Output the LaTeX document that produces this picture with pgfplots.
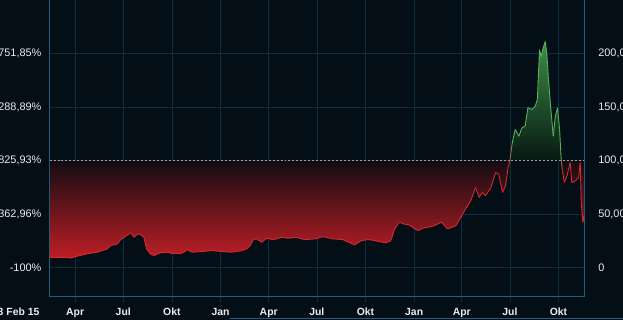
\documentclass[border=0pt]{standalone}
\usepackage{pgfplots}
\usepackage{pgfplotstable}
\pgfplotsset{compat=1.18}
\usepackage{fontspec}
\setmainfont{Liberation Sans}
\definecolor{bg}{RGB}{3,14,22}
\definecolor{gridc}{RGB}{13,46,62}
\definecolor{framec}{RGB}{30,96,128}
\definecolor{lab}{RGB}{236,236,236}
\definecolor{redhi}{RGB}{190,30,38}
\definecolor{redlo}{RGB}{18,12,18}
\definecolor{grnhi}{RGB}{62,140,72}
\definecolor{grnlo}{RGB}{6,24,18}
\definecolor{redline}{RGB}{216,40,46}
\definecolor{grnline}{RGB}{84,180,88}
\definecolor{dashc}{RGB}{160,160,160}

\pgfplotstableread{
d v
-48 10
-14 10
-9 9
4 10.9
23 13
42 14.6
61 17.7
67 20.7
80 22.3
86 26.3
102 31.6
105 33.2
111 28.5
116 30.7
122 31.6
130 28.5
135 17.7
142 13
149 11.4
161 14
174 14.6
186 13
199 13
208 15.2
211 17
221 14.6
240 15.2
258 16.1
277 15.2
296 14.6
315 16
324 17.7
331 20.7
337 26.3
343 27
353 23.9
362 27.6
375 26.3
390 28.5
403 27.6
418 28.5
434 26.3
453 27
469 29.1
488 27
506 26.4
528 21.4
541 25.4
556 26.4
575 24.5
588 23.3
597 25.4
604 36.3
613 42.5
622 40.9
632 40
638 37.8
648 34.7
657 36.9
676 38.8
693 42.5
704 36.3
713 37.8
720 39.4
729 47.2
738 54.9
748 62.6
757 75
764 65.8
770 70.4
776 67.3
786 75
795 89
801 87.4
808 70.4
814 76.6
818 92
822 99.8
826 115.3
832 129.3
839 123
845 130.9
851 132.4
856 149.5
864 147.9
870 151
874 157.2
878 203.7
881 197.5
885 205.3
889 211.5
892 199
895 175.8
899 151
904 123
908 141.7
912 149.5
916 129.3
919 101.4
921 92
925 79.7
930 85.9
936 98.3
939 79.7
946 81.2
952 84.4
955 98.3
957 61
960 42.5
962 48.7
}\price

\begin{document}
\pagecolor{bg}
\begin{tikzpicture}
\begin{axis}[
  scale only axis, width=537bp, height=310bp,
  xmin=-48.4, xmax=962.5, ymin=-27, ymax=261.4,
  axis line style={framec, line width=0.9bp},
  xtick={0,91,183,275,366,457,549,641,731,822,914},
  xticklabels={Apr,Jul,Okt,Jan,Apr,Jul,Okt,Jan,Apr,Jul,Okt},
  xtick pos=bottom, tick align=outside, major tick length=5bp,
  x tick style={gridc, line width=0.6bp},
  ytick={0,50,100,150,200},
  yticklabels={0,{50,00},{100,00},{150,00},{200,00}},
  ytick pos=right, yticklabel pos=right,
  y tick style={draw=none},
  grid=major, major grid style={gridc, line width=0.6bp},
  xticklabel style={font=\bfseries\fontsize{10.5}{12}\selectfont, text=lab, anchor=base, inner sep=0pt, yshift=-13.5bp},
  yticklabel style={font=\fontsize{11}{13}\selectfont, text=lab, anchor=west, inner sep=0pt, xshift=9bp},
  colormap={rg}{color(0)=(redline) color(1)=(grnline)},
  point meta min=99.9, point meta max=100.1,
  clip mode=individual,
]
\addplot[draw=none, top color=redlo, bottom color=redhi] table[x=d, y expr={min(\thisrow{v},100)}] {\price} -- (axis cs:962,100) -- (axis cs:-48,100) -- cycle;
\addplot[draw=none, top color=grnhi, bottom color=grnlo] table[x=d, y expr={max(\thisrow{v},100)}] {\price} -- (axis cs:962,100) -- (axis cs:-48,100) -- cycle;
\addplot[dashc, line width=0.9bp, dash pattern=on 2bp off 2bp] coordinates {(-48.4,100) (962.5,100)};
\addplot[mesh, shader=flat, point meta=y, line width=0.9bp] table[x=d, y=v] {\price};
\node[anchor=base east, inner sep=0pt, font=\bfseries\fontsize{10.5}{12}\selectfont, text=lab] at ([xshift=-10bp, yshift=-18.5bp]rel axis cs:0,0) {13 Feb 15};
\end{axis}
\begin{axis}[
  scale only axis, width=537bp, height=310bp,
  xmin=-48.4, xmax=962.5, ymin=-27, ymax=261.4,
  axis x line=none, axis y line*=left,
  axis line style={draw=none},
  ytick={0,50,100,150,200},
  yticklabels={-100\%,{362,96\%},{825,93\%},{1288,89\%},{1751,85\%}},
  y tick style={draw=none},
  yticklabel style={font=\fontsize{11}{13}\selectfont, text=lab, anchor=east, inner sep=0pt, xshift=-8bp},
]
\end{axis}
\draw[framec, line width=1.4bp] (181bp,-21.8bp) -- (576bp,-21.8bp);
\pgfresetboundingbox
\path[use as bounding box] (-47bp,-23bp) rectangle (576bp,298bp);
\end{tikzpicture}
\end{document}
